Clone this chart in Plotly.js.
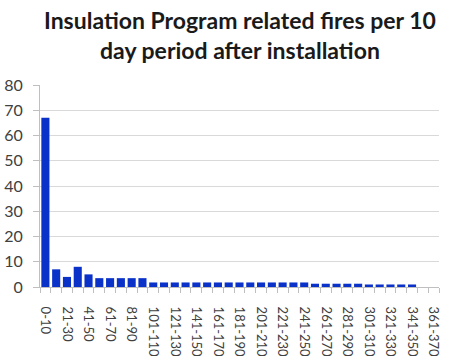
<!DOCTYPE html>
<html>
<head>
<meta charset="utf-8">
<script src="https://cdn.plot.ly/plotly-3.0.1.min.js"></script>
<style>html,body{margin:0;padding:0;background:#fff;}#chart{width:450px;height:356px;}</style>
</head>
<body>
<div id="chart"></div>
<script>
var categories = ["0-10","11-20","21-30","31-40","41-50","51-60","61-70","71-80","81-90","91-100",
  "101-110","111-120","121-130","131-140","141-150","151-160","161-170","171-180","181-190","191-200",
  "201-210","211-220","221-230","231-240","241-250","251-260","261-270","271-280","281-290","291-300",
  "301-310","311-320","321-330","331-340","341-350","351-360","361-370"];
var fires = [67, 7, 4, 8, 5, 3.5, 3.5, 3.5, 3.5, 3.5,
  1.8, 1.8, 1.8, 1.8, 1.8, 1.8, 1.8, 1.8, 1.8, 1.8,
  1.8, 1.8, 1.8, 1.8, 1.8, 1.3, 1.3, 1.3, 1.3, 1.3,
  1, 1, 1, 1, 1, 0, 0];
var tickLabels = categories.map(function(c, i){ return i % 2 === 0 ? c : ""; });
var titleLines = ["Insulation Program related fires per 10", "day period after installation"];

var titleFont = {family: "Lato, 'Noto Sans', sans-serif", size: 23, color: "#1a1a1a", weight: "bold"};
var trace = {
  type: "bar",
  x: categories,
  y: fires,
  marker: {color: "#0A32C8"},
  hoverinfo: "x+y"
};
var layout = {
  width: 450, height: 356,
  margin: {l: 40, r: 11, t: 85, b: 69},
  paper_bgcolor: "#fff", plot_bgcolor: "#fff",
  bargap: 0.25,
  showlegend: false,
  annotations: [
    {text: titleLines[0], xref: "paper", yref: "paper", x: 0.5, y: 1.322, xanchor: "center", yanchor: "middle", showarrow: false, font: titleFont},
    {text: titleLines[1], xref: "paper", yref: "paper", x: 0.5, y: 1.173, xanchor: "center", yanchor: "middle", showarrow: false, font: titleFont}
  ],
  xaxis: {
    type: "category",
    tickmode: "array",
    tickvals: categories,
    ticktext: tickLabels,
    tickson: "boundaries",
    ticks: "outside", ticklen: 5, tickcolor: "#bfbfbf",
    tickangle: 90,
    ticklabelstandoff: 16,
    tickfont: {family: "Lato, 'Noto Sans', sans-serif", size: 13, color: "#404040"},
    showline: true, linecolor: "#bfbfbf", linewidth: 1,
    showgrid: false, zeroline: false,
    fixedrange: true
  },
  yaxis: {
    range: [0, 80],
    dtick: 10,
    ticks: "outside", ticklen: 6, tickcolor: "#bfbfbf",
    ticklabelstandoff: 7,
    tickfont: {family: "Lato, 'Noto Sans', sans-serif", size: 16, color: "#404040"},
    showline: true, linecolor: "#bfbfbf", linewidth: 1,
    showgrid: true, gridcolor: "#d9d9d9", gridwidth: 1,
    zeroline: false,
    fixedrange: true
  }
};
Plotly.newPlot("chart", [trace], layout, {displayModeBar: false, staticPlot: true});
</script>
</body>
</html>
